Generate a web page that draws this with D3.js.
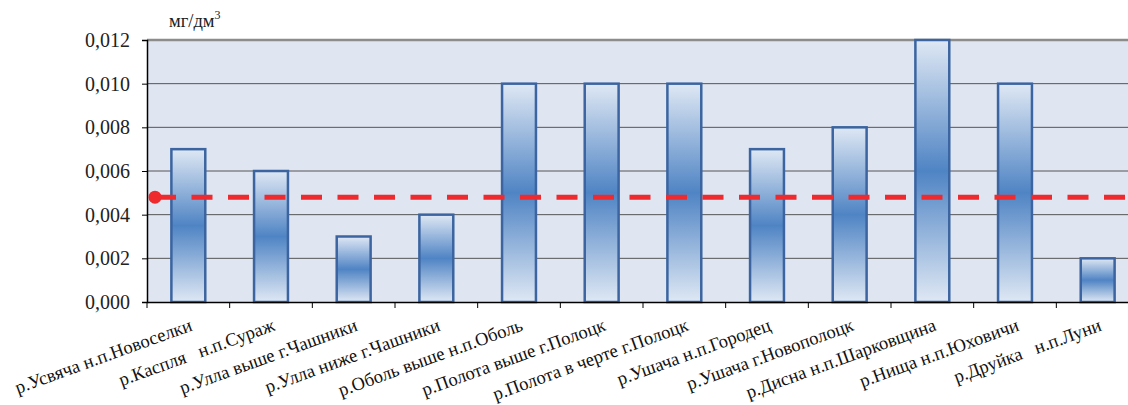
<!DOCTYPE html>
<html><head><meta charset="utf-8">
<script src="https://cdn.jsdelivr.net/npm/d3@7"></script>
<style>body{margin:0;background:#fff}svg{display:block}</style>
</head><body>
<svg id="c" width="1128" height="405"></svg>
<script>
const categories = ["р.Усвяча н.п.Новоселки","р.Каспля   н.п.Сураж","р.Улла выше г.Чашники","р.Улла ниже г.Чашники","р.Оболь выше н.п.Оболь","р.Полота выше г.Полоцк","р.Полота в черте г.Полоцк","р.Ушача н.п.Городец","р.Ушача г.Новополоцк","р.Дисна н.п.Шарковщина","р.Нища н.п.Юховичи","р.Друйка   н.п.Луни"];
const values = [0.007,0.006,0.003,0.004,0.010,0.010,0.010,0.007,0.008,0.012,0.010,0.002];
const referenceValue = [0.0048];
const yTicks = [0,0.002,0.004,0.006,0.008,0.010,0.012];
const unitLabel = "мг/дм";
const FONT = "'Liberation Serif'";

const svg = d3.select("#c");
const L = 147, R = 1139, T = 40, B = 302;
const x = d3.scaleBand().domain(categories).range([L, R]).paddingInner(0.59).paddingOuter(0.295);
const xb = d3.scaleBand().domain(categories).range([L, R]);
const y = d3.scaleLinear().domain([0, 0.012]).range([B, T]);

const defs = svg.append("defs");
const g = defs.append("linearGradient").attr("id","bg").attr("x1",0).attr("y1",0).attr("x2",0).attr("y2",1);
g.append("stop").attr("offset","0%").attr("stop-color","#dfe8f4");
g.append("stop").attr("offset","50%").attr("stop-color","#4f84c4");
g.append("stop").attr("offset","100%").attr("stop-color","#dfe8f4");

svg.append("rect").attr("x",L).attr("y",T).attr("width",R-L).attr("height",B-T).attr("fill","#dfe5f1");

svg.append("g").selectAll("line").data(yTicks.slice(1,-1)).join("line")
  .attr("x1",L).attr("x2",R).attr("y1",d=>y(d)).attr("y2",d=>y(d))
  .attr("stroke","#555").attr("stroke-width",1);
svg.append("line").attr("x1",L).attr("x2",R).attr("y1",T).attr("y2",T).attr("stroke","#8c8c8c").attr("stroke-width",2.5);

svg.append("g").selectAll("rect").data(values).join("rect")
  .attr("x",(d,i)=>x(categories[i])).attr("width",x.bandwidth())
  .attr("y",d=>y(d)).attr("height",d=>B-y(d))
  .attr("fill","url(#bg)").attr("stroke","#3b64a0").attr("stroke-width",2.5);

// y axis
const ya = svg.append("g").attr("transform",`translate(${L},0)`)
  .call(d3.axisLeft(y).tickValues(yTicks).tickSize(5).tickPadding(12).tickFormat(d=>d3.format(".3f")(d).replace(".",",")));
ya.select(".domain").attr("stroke","#000").attr("stroke-width",1.5);
ya.selectAll(".tick line").attr("stroke","#000");
ya.selectAll("text").style("font-family",FONT).attr("font-size",20).attr("fill","#222");

// x axis
const xa = svg.append("g").attr("transform",`translate(0,${B})`)
  .call(d3.axisBottom(xb).tickSize(0).tickFormat(""));
xa.select(".domain").attr("stroke","#000").attr("stroke-width",1.5);
xa.selectAll(".bt").data(d3.range(categories.length+1)).join("line")
  .attr("x1",i=>L+i*xb.step()).attr("x2",i=>L+i*xb.step()).attr("y1",0).attr("y2",6).attr("stroke","#000");

svg.append("g").selectAll("text").data(categories).join("text")
  .attr("transform",d=>`translate(${x(d)+x.bandwidth()/2+5},${B+28}) rotate(-20)`)
  .attr("text-anchor","end").style("font-family",FONT).attr("font-size",18.5).attr("fill","#111")
  .style("white-space","pre").text(d=>d);

// reference line
svg.append("line").attr("x1",155).attr("x2",R).attr("y1",y(referenceValue[0])).attr("y2",y(referenceValue[0]))
  .attr("stroke","#ee2a2e").attr("stroke-width",5).attr("stroke-dasharray","21,15.5");
svg.append("circle").attr("cx",155).attr("cy",y(referenceValue[0])).attr("r",6.5).attr("fill","#ee2a2e");

// unit
const u = svg.append("text").attr("x",169).attr("y",27).style("font-family",FONT).attr("font-size",18.5).attr("fill","#222");
u.append("tspan").text(unitLabel);
u.append("tspan").attr("font-size",12).attr("dy",-8).text("3");
</script>
</body></html>
